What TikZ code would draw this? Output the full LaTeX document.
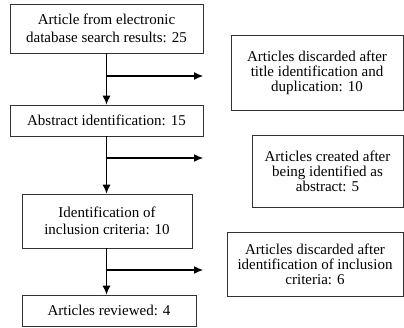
\documentclass[tikz,border=0pt]{standalone}
\usepackage{fontspec}
\setmainfont{Liberation Serif}
\usetikzlibrary{arrows.meta}
\begin{document}
\begin{tikzpicture}[x=1pt,y=-1pt,
  box/.style={draw=black!80,line width=0.8pt,align=center,inner sep=0pt,font=\fontsize{15}{15}\selectfont},
  arr/.style={line width=1.1pt,-{Latex[length=9pt,width=8pt]}}]
\useasboundingbox (0,0) rectangle (404,327);
\node[box,minimum width=193pt,minimum height=49pt,font=\fontsize{15}{18}\selectfont] (search) at (106.5,28.5) {Article from electronic\\database search results: 25};
\node[box,minimum width=193pt,minimum height=31pt] (abstract) at (106.5,120.5) {Abstract identification: 15};
\node[box,minimum width=170pt,minimum height=54pt,font=\fontsize{15}{17}\selectfont] (criteria) at (107,221) {Identification of\\inclusion criteria: 10};
\node[box,minimum width=174pt,minimum height=31pt] (reviewed) at (109,310.5) {Articles reviewed: 4};
\node[box,minimum width=172pt,minimum height=75pt] (discardA) at (317,72.5) {Articles discarded after\\title identification and\\duplication: 10};
\node[box,minimum width=151pt,minimum height=72pt] (created) at (327.5,171) {Articles created after\\being identified as\\abstract: 5};
\node[box,minimum width=176pt,minimum height=64pt] (discardB) at (315,264) {Articles discarded after\\identification of inclusion\\criteria: 6};
\coordinate (endA) at (203,76);
\coordinate (endB) at (203,158);
\coordinate (endC) at (203,270);
\draw[arr] (search.south) -- (abstract.north);
\draw[arr] (abstract.south) -- (abstract.south |- criteria.north);
\draw[arr] (abstract.south |- criteria.south) -- (abstract.south |- reviewed.north);
\draw[arr] (search.south |- endA) -- (endA);
\draw[arr] (abstract.south |- endB) -- (endB);
\draw[arr] (abstract.south |- endC) -- (endC);
\end{tikzpicture}
\end{document}
